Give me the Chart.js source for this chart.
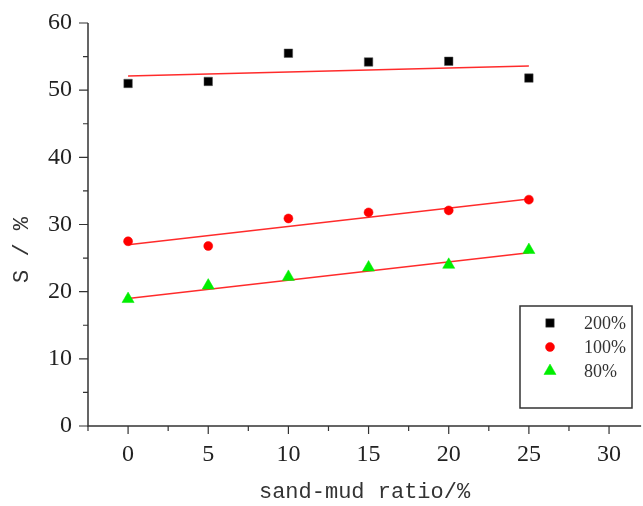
<!DOCTYPE html>
<html>
<head>
<meta charset="utf-8">
<script src="https://cdn.jsdelivr.net/npm/chart.js@4/dist/chart.umd.min.js"></script>
<style>
  html, body { margin: 0; padding: 0; background: #fff; }
  #wrap { width: 643px; height: 506px; }
</style>
</head>
<body>
<div id="wrap"><canvas id="chart" width="643" height="506"></canvas></div>
<script>
// sand-mud ratio (%) on x
const sandMud = [0, 5, 10, 15, 20, 25];
// S (%) per series
const s200 = [51.0, 51.3, 55.5, 54.2, 54.3, 51.8];
const s100 = [27.5, 26.8, 30.9, 31.8, 32.1, 33.7];
const s80 = [18.9, 20.9, 22.2, 23.6, 24.0, 26.2];
// linear fit end points
const fitX = [0, 25];
const fit200 = [52.1, 53.6];
const fit100 = [27.0, 33.8];
const fit80 = [19.0, 25.8];

const seriesLabels = ['200%', '100%', '80%'];
const xTicks = [0, 5, 10, 15, 20, 25, 30];
const yTicks = [0, 10, 20, 30, 40, 50, 60];

const pts = (xs, ys) => xs.map((x, i) => ({ x: x, y: ys[i] }));
const fitLine = (ys) => ({
  data: pts(fitX, ys),
  showLine: true,
  borderColor: 'rgba(255, 20, 20, 0.9)',
  borderWidth: 1.5,
  pointRadius: 0,
  isFit: true
});

// axis lines + major/minor tick marks, axis titles and boxed legend
const decor = {
  id: 'decor',
  afterDraw(chart) {
    const ctx = chart.ctx;
    const xs = chart.scales.x, ys = chart.scales.y;
    const area = chart.chartArea;
    ctx.save();
    ctx.strokeStyle = '#333';
    ctx.lineWidth = 1.5;
    ctx.beginPath();
    ctx.moveTo(area.left, area.top);
    ctx.lineTo(area.left, area.bottom);
    // the axis line runs a little past the last label, to 32
    ctx.lineTo(xs.getPixelForValue(32), area.bottom);
    ctx.stroke();

    ctx.lineWidth = 1.2;
    ctx.beginPath();
    for (let v = -2.5; v <= 30; v += 2.5) {
      const px = xs.getPixelForValue(v);
      const len = v % 5 === 0 ? 8 : 5;
      ctx.moveTo(px, area.bottom);
      ctx.lineTo(px, area.bottom + len);
    }
    for (let v = 0; v <= 60; v += 5) {
      const py = ys.getPixelForValue(v);
      const len = v % 10 === 0 ? 9 : 5;
      ctx.moveTo(area.left, py);
      ctx.lineTo(area.left - len, py);
    }
    ctx.stroke();

    // axis titles
    ctx.fillStyle = '#333';
    ctx.font = '22px "Liberation Mono"';
    ctx.textAlign = 'center';
    ctx.textBaseline = 'middle';
    ctx.fillText('sand-mud ratio/%', (area.left + xs.getPixelForValue(32)) / 2, 492);
    ctx.save();
    ctx.translate(22, 250);
    ctx.rotate(-Math.PI / 2);
    ctx.fillText('S / %', 0, 0);
    ctx.restore();

    // legend box
    const lx = 520, ly = 306, lw = 112, lh = 102;
    ctx.lineWidth = 1.5;
    ctx.strokeStyle = '#333';
    ctx.strokeRect(lx, ly, lw, lh);
    ctx.font = '18px "Liberation Serif"';
    ctx.textAlign = 'left';
    const rows = [323, 347, 371];
    chart.data.datasets.filter(d => !d.isFit).forEach((d, i) => {
      ctx.save();
      ctx.fillStyle = d.backgroundColor;
      ctx.strokeStyle = d.borderColor;
      ctx.lineWidth = 0.5;
      Chart.helpers.drawPoint(ctx, {
        pointStyle: d.pointStyle,
        radius: d.pointRadius,
        borderWidth: 0.5,
        rotation: 0
      }, 550, rows[i]);
      ctx.restore();
      ctx.fillStyle = '#333';
      ctx.fillText(d.label, 584, rows[i] + 1);
    });
    ctx.restore();
  }
};

new Chart(document.getElementById('chart'), {
  type: 'scatter',
  data: {
    datasets: [
      {
        label: seriesLabels[0],
        data: pts(sandMud, s200),
        pointStyle: 'rect',
        pointRadius: 6,
        backgroundColor: '#000',
        borderColor: '#555',
        borderWidth: 0.5
      },
      {
        label: seriesLabels[1],
        data: pts(sandMud, s100),
        pointStyle: 'circle',
        pointRadius: 4.5,
        backgroundColor: '#ff0000',
        borderColor: '#ff0000',
        borderWidth: 0.5
      },
      {
        label: seriesLabels[2],
        data: pts(sandMud, s80),
        pointStyle: 'triangle',
        pointRadius: 7,
        backgroundColor: '#00ee00',
        borderColor: '#00ee00',
        borderWidth: 0.5
      },
      fitLine(fit200),
      fitLine(fit100),
      fitLine(fit80)
    ]
  },
  options: {
    responsive: false,
    animation: false,
    layout: { padding: { top: 23, right: 2, left: 0, bottom: 0 } },
    plugins: {
      legend: { display: false },
      tooltip: { enabled: false }
    },
    scales: {
      x: {
        type: 'linear',
        min: -2.5,
        max: 31.65,
        grid: { display: false },
        border: { display: false },
        afterBuildTicks: (scale) => { scale.ticks = xTicks.map(v => ({ value: v })); },
        afterFit: (scale) => {
          scale.height = 80;
          scale.paddingLeft = 0;
          scale.paddingRight = 0;
        },
        ticks: {
          padding: 6,
          color: '#222',
          font: { family: 'Liberation Serif', size: 24 },
          maxRotation: 0
        }
      },
      y: {
        type: 'linear',
        min: 0,
        max: 60,
        grid: { display: false },
        border: { display: false },
        afterBuildTicks: (scale) => { scale.ticks = yTicks.map(v => ({ value: v })); },
        afterFit: (scale) => {
          scale.width = 88;
          scale.paddingTop = 0;
          scale.paddingBottom = 0;
        },
        ticks: {
          padding: 8,
          color: '#222',
          font: { family: 'Liberation Serif', size: 24 }
        }
      }
    }
  },
  plugins: [decor]
});
</script>
</body>
</html>
